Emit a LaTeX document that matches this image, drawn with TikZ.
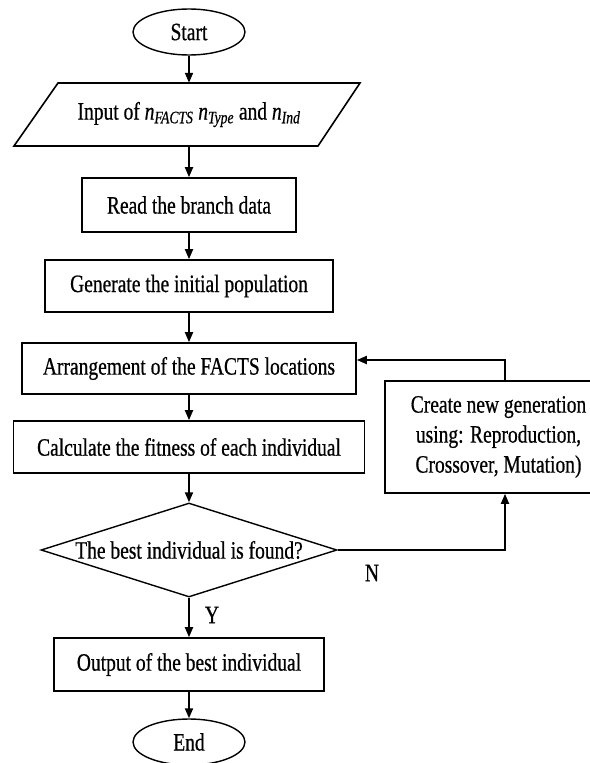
\documentclass[tikz,border=0pt]{standalone}
\usepackage{fontspec}
\setmainfont{Liberation Serif}[FakeStretch=0.78,FakeBold=0.6]
\usetikzlibrary{shapes.geometric,arrows.meta}
\tikzset{
  box/.style={draw, line width=1.6pt, rectangle, inner sep=0pt, align=center},
  oval/.style={draw, line width=1.4pt, ellipse, inner sep=0pt, minimum width=112pt, minimum height=46pt},
  dec/.style={draw, line width=1.4pt, diamond, inner sep=0pt, aspect=3.15},
  conn/.style={line width=1.8pt, -{Triangle[length=10pt,width=8pt]}},
  lbl/.style={inner sep=0pt}
}
\begin{document}
\begin{tikzpicture}[x=1pt,y=-1pt,font=\fontsize{25}{30}\selectfont]
\useasboundingbox (0,0) rectangle (589,763);
\node[oval] (start) at (189,32) {Start};
\draw[line width=1.6pt] (58,83) -- (360,83) -- (318,146) -- (14,146) -- cycle;
\node[inner sep=0pt, minimum width=300pt, minimum height=63pt] (inp) at (189,114.5)
  {Input of \textit{n}\textsubscript{\textit{FACTS}} \textit{n}\textsubscript{\textit{Type}} and \textit{n}\textsubscript{\textit{Ind}}};
\node[box, minimum width=214pt, minimum height=54pt] (read) at (189,205) {Read the branch data};
\node[box, minimum width=288pt, minimum height=52pt] (gen) at (189,286) {Generate the initial population};
\node[box, minimum width=334pt, minimum height=51pt] (arr) at (189,368.5) {Arrangement of the FACTS locations};
\node[box, minimum width=351pt, minimum height=52pt] (calc) at (189,447) {Calculate the fitness of each individual};
\node[dec, minimum width=296pt, minimum height=94pt] (dec) at (189,550) {The best individual is found?};
\node[box, minimum width=270pt, minimum height=53pt] (out) at (189,664.5) {Output of the best individual};
\node[oval] (end) at (189,742) {End};
\node[box, minimum width=227pt, minimum height=112pt] (create) at (498.5,437)
  {Create new generation\\using: Reproduction,\\Crossover, Mutation)};
\node[lbl] (n) at (372,573) {N};
\node[lbl] (y) at (212,615) {Y};
\coordinate (fb) at (505,360);
\draw[conn] (start) -- (inp);
\draw[conn] (inp) -- (read);
\draw[conn] (read) -- (gen);
\draw[conn] (gen) -- (arr);
\draw[conn] (arr) -- (calc);
\draw[conn] (calc) -- (dec);
\draw[conn] (dec) -- (out);
\draw[conn] (out) -- (end);
\draw[conn] (dec.east) -| (create.south -| fb);
\draw[conn] (create.north -| fb) |- (arr.east |- fb);
\end{tikzpicture}
\end{document}
